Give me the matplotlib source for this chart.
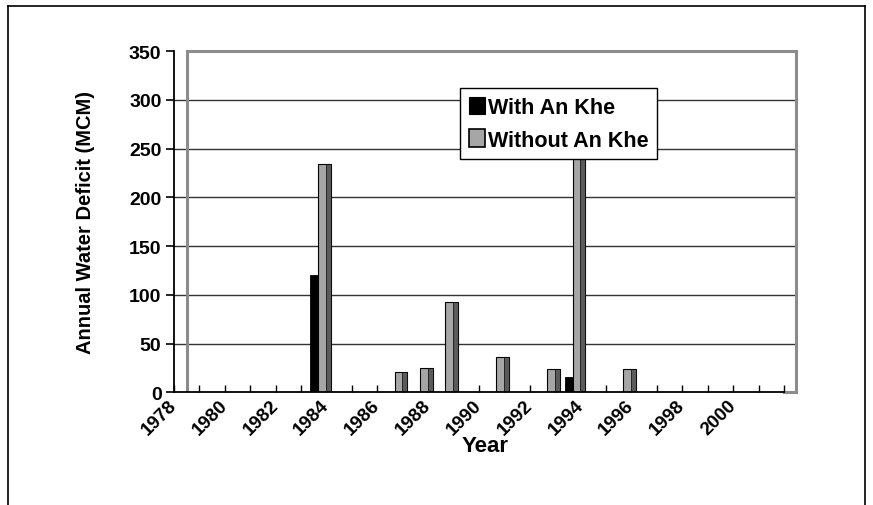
import matplotlib
matplotlib.use("Agg")
import matplotlib.pyplot as plt
from matplotlib.patches import Patch

plt.rcParams['font.family'] = ['Liberation Sans', 'DejaVu Sans']
plt.rcParams['font.weight'] = 'bold'

# data
years = [1984, 1987, 1988, 1989, 1991, 1993, 1994, 1996]
with_ankhe = [120, 0, 0, 0, 0, 0, 16, 0]
without_ankhe = [234, 20.5, 24.5, 93, 36, 24, 290, 24]
tick_years = list(range(1978, 2003))
label_years = list(range(1978, 2001, 2))
y_ticks = [0, 50, 100, 150, 200, 250, 300, 350]

W, H = 873, 506
fig = plt.figure(figsize=(W / 100, H / 100), dpi=100)

# outer frame
fig.add_artist(plt.Line2D([8 / W, 8 / W], [0, 1 - 7 / H], color='black', lw=1.2))
fig.add_artist(plt.Line2D([8 / W, 865 / W], [1 - 7 / H, 1 - 7 / H], color='black', lw=1.2))
fig.add_artist(plt.Line2D([865 / W, 865 / W], [0, 1 - 7 / H], color='black', lw=1.2))

ax = fig.add_axes([174 / W, 1 - 393.3 / H, 622 / W, 341.3 / H])
x_end = 2002 + 12 / 25.35
ax.set_xlim(1978, x_end)
ax.set_ylim(0, 350)

for s in ['top', 'right', 'bottom']:
    ax.spines[s].set_visible(False)
ax.spines['left'].set_color('black')
ax.spines['left'].set_linewidth(1.3)

# plot area border (gray) and x axis
ax.plot([1978.5, 1978.5], [0, 350], color='#8c8c8c', lw=2.2, zorder=1)
ax.plot([1978.5, x_end], [350, 350], color='#8c8c8c', lw=2.2, zorder=1, clip_on=False)
ax.plot([x_end, x_end], [0, 350], color='#8c8c8c', lw=2.2, zorder=1, clip_on=False)
ax.plot([2002, x_end], [0, 0], color='#8c8c8c', lw=2.2, zorder=1, clip_on=False)
ax.plot([1978, 2002], [0, 0], color='black', lw=1.3, zorder=4, clip_on=False)

for v in y_ticks[1:-1]:
    ax.plot([1978, x_end], [v, v], color='#333333', lw=1.0, zorder=0)

# bars
light_w, dark_w, black_w = 0.50, 0.19, 0.31
ax.bar([y - 0.32 - black_w for y in years], with_ankhe, width=black_w, align='edge',
       color='black', edgecolor='black', lw=0.6, zorder=3)
ax.bar([y - 0.32 for y in years], without_ankhe, width=light_w, align='edge',
       color='#a6a6a6', edgecolor='black', lw=0.8, zorder=3)
ax.bar([y + 0.18 - dark_w for y in years], without_ankhe, width=dark_w, align='edge',
       color='#5a5a5a', edgecolor='black', lw=0.5, zorder=3)

ax.set_yticks(y_ticks)
ax.set_yticklabels([str(v) for v in y_ticks], fontsize=14, fontweight='bold')
ax.tick_params(axis='y', direction='out', length=6, width=1.2, pad=3)

ax.set_xticks(tick_years)
ax.set_xticklabels([str(y) if y in label_years else '' for y in tick_years],
                   fontsize=13.5, fontweight='bold', rotation=45,
                   ha='right', va='center', rotation_mode='anchor')
ax.tick_params(axis='x', direction='in', length=5, width=1.0, pad=7)

ax.set_ylabel('Annual Water Deficit (MCM)', fontsize=14.5, fontweight='bold')
ax.yaxis.set_label_coords(-0.127, 0.5)
ax.set_xlabel('Year', fontsize=16, fontweight='bold')
ax.xaxis.set_label_coords(0.5, -0.157)
ax.xaxis.label.set_va('center')

handles = [Patch(facecolor='black', edgecolor='black', lw=0.8),
           Patch(facecolor='#a6a6a6', edgecolor='black', lw=1.2)]
leg = ax.legend(handles, ['With An Khe', 'Without An Khe'],
                loc='upper left', bbox_to_anchor=(460 / W, 1 - 89 / H),
                bbox_transform=fig.transFigure, fontsize=15.5, frameon=True,
                fancybox=False, shadow=False, handlelength=0.75, handleheight=0.85,
                handletextpad=0.15, borderpad=0.4, labelspacing=0.55,
                borderaxespad=0)
leg.get_frame().set_edgecolor('black')
leg.get_frame().set_linewidth(1.0)
leg.get_frame().set_alpha(1)
for t in leg.get_texts():
    t.set_fontweight('bold')
leg.set_zorder(10)

fig.savefig('out.png', dpi=100)
